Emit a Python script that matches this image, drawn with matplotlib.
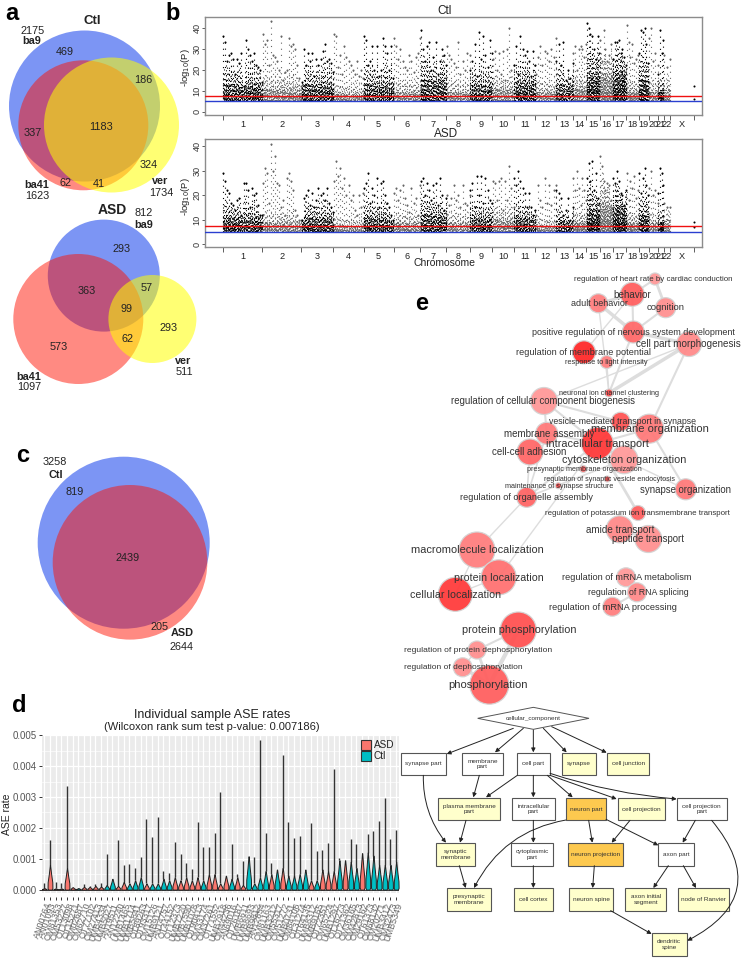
import numpy as np
import matplotlib
matplotlib.use('Agg')
from matplotlib import pyplot as plt
from matplotlib.patches import Circle, Polygon, Rectangle, FancyArrowPatch

plt.rcParams['font.family'] = ['Liberation Sans', 'DejaVu Sans']

W, H = 751, 960
TXT = '#222222'

# venn counts, panel a and c
ctl_venn = ['469', '186', '337', '1183', '324', '62', '41']
asd_venn = ['293', '363', '57', '99', '293', '573', '62']
ctl_totals = ['2175', '1623', '1734']
asd_totals = ['812', '1097', '511']
cross_venn = ['819', '2439', '205']
cross_totals = ['3258', '2644']

# manhattan, panel b: chromosome spans and the estimated column tops, -log10(P)
chrom_labels = [str(i) for i in range(1, 23)] + ['X']
chrom_span = [248, 244, 200, 188, 188, 167, 163, 146, 140, 135, 135, 129, 106,
              83, 83, 83, 83, 77, 63, 58, 35, 42, 146]
ctl_tops = [
    [36, 33, 24, 27, 28, 25, 18, 25, 23, 28, 12, 34, 30, 27, 24, 28, 22, 21, 20, 14],
    [37, 32, 34, 22, 43, 27, 26, 24, 20, 36, 15, 19, 20, 35, 31, 32, 30, 22, 16, 12],
    [14, 30, 22, 28, 24, 28, 17, 25, 22, 25, 29, 32, 24, 25, 23, 19],
    [37, 36, 21, 27, 18, 31, 26, 24, 22, 20, 18, 24, 17, 20, 16],
    [36, 34, 22, 24, 31, 20, 31, 17, 20, 35, 31, 28, 20, 31, 16],
    [35, 31, 25, 30, 24, 21, 20, 27, 24, 19, 26, 28, 35],
    [39, 30, 24, 31, 33, 20, 26, 33, 18, 24, 30, 27, 22],
    [31, 27, 25, 23, 21, 33, 18, 24, 20, 28, 27],
    [20, 24, 32, 17, 38, 25, 36, 27, 21, 34, 28],
    [25, 29, 20, 28, 18, 29, 15, 30, 40, 20, 22],
    [22, 31, 18, 36, 30, 27, 29, 24, 17, 29, 22],
    [18, 26, 31, 22, 29, 28, 24, 30, 26, 35],
    [24, 32, 22, 33, 15, 20, 16, 23],
    [28, 31, 20, 30, 31, 30, 26, 32],
    [42, 40, 37, 36, 30, 25, 36, 28],
    [34, 24, 39, 30, 24, 27, 32, 25],
    [25, 33, 33, 34, 28, 30, 26, 22],
    [41, 33, 26, 32, 23, 25, 27],
    [28, 39, 38, 40, 32, 23],
    [35, 40, 24, 28, 22],
    [18, 39, 28, 34],
    [27, 21, 25],
    [12, 6],
]
asd_tops = [
    [29, 26, 22, 21, 17, 16, 14, 18, 19, 12, 25, 25, 22, 15, 23, 20, 21, 16, 12, 12],
    [25, 31, 29, 17, 41, 30, 36, 25, 24, 15, 18, 12, 27, 29, 26, 22, 14, 12, 10, 10],
    [10, 19, 20, 22, 16, 21, 15, 18, 23, 20, 21, 18, 23, 17, 15, 13],
    [26, 34, 28, 31, 23, 27, 20, 24, 18, 20, 14, 12, 20, 15, 21],
    [23, 25, 29, 17, 23, 20, 27, 15, 25, 26, 20, 17, 15, 12, 10],
    [21, 23, 18, 22, 24, 19, 16, 13, 23, 17, 19, 12, 24],
    [26, 27, 20, 25, 22, 18, 24, 25, 16, 27, 20, 14, 19],
    [20, 16, 19, 24, 18, 20, 15, 24, 17, 16, 20],
    [22, 25, 15, 28, 20, 28, 17, 27, 22, 18, 17],
    [26, 25, 18, 26, 27, 14, 26, 18, 32, 23, 15],
    [27, 24, 30, 26, 23, 21, 15, 21, 15, 12, 14],
    [12, 24, 18, 15, 27, 17, 24, 16, 22, 24],
    [22, 21, 19, 12, 14, 19, 10, 15],
    [27, 22, 30, 23, 16, 27, 22, 18],
    [27, 33, 26, 34, 22, 29, 19, 17],
    [36, 32, 26, 22, 25, 24, 18, 15],
    [27, 25, 30, 26, 21, 20, 16, 22],
    [29, 18, 26, 23, 28, 19, 22],
    [29, 21, 27, 31, 24, 20],
    [23, 30, 20, 22, 17],
    [21, 31, 29, 24],
    [17, 15, 15],
    [9, 7],
]
ctl_band = [13, 11, 13, 9, 13, 10, 15, 10, 13, 11, 14, 10, 13, 11, 17, 17, 18, 10, 15, 10, 10, 11, 6]
asd_band = [11, 9, 11, 8, 11, 9, 12, 9, 11, 10, 11, 8, 10, 9, 14, 16, 15, 9, 12, 9, 9, 10, 6]

# violins, panel d: whisker top, top of the body, group
ase_top = [.0002, .0016, .00025, .0002, .00335, .0001, .00005, .00018, .00012, .00018, .0002,
           .00115, .00035, .0016, .0008, .00082, .0007, .00105, .0023, .0017, .00235,
           .0006, .00055, .00155, .00115, .00085, .00068, .0022, .00137, .00137, .00183,
           .00317, .00045, .00148, .0005, .00093, .00108, .00107, .00485, .00182, .00085,
           .00065, .00435, .0022, .00168, .00173, .00065, .00215, .00125, .00128, .00152,
           .00392, .00102, .00095, .00165, .00148, .00118, .0018, .0019, .00223, .00297,
           .00165, .00193]
ase_body = [.00005, .0008, .00004, .00004, .0007, .00008, .00005, .00009, .00009, .00012, .0001,
            .00015, .00035, .00012, .00025, .0002, .0003, .0004, .0002, .0002, .0002,
            .00035, .0003, .0004, .0003, .0004, .0003, .0004, .0003, .0005, .0005,
            .0002, .00045, .00035, .0004, .00015, .00108, .0002, .0004, .0006, .0005,
            .00065, .0007, .00045, .00045, .0005, .00065, .0003, .0003, .00065, .0006,
            .0006, .00095, .00095, .0009, .0007, .00118, .0012, .0011, .0008, .0008,
            .0008, .0009]
ase_group = list('AAAAAACAAAA' 'CCAACCCACCCC' 'AAAAACAAAACAA' 'CCCCACACCCCACAAACACCACCCCCC')
# names cannot be read exactly in the picture, these are estimates
sample_names = ['AN00764', 'AN01093', 'OM81353', 'OM53227', 'OT13098', 'OT15271', 'OM02687', 'OM62710',
                'OT77102', 'OM27413', 'UMB4334', 'UMB5027', 'AN19511', 'AN12240', 'UMB1465', 'UMB1714',
                'UMB5841', 'OT89263', 'OT93317', 'OM15126', 'UMB9121', 'AN14757', 'OT44152', 'OT12373',
                'UMB7220', 'UMB7590', 'UMB1078', 'OT90413', 'OM33174', 'OM37261', 'OT71552', 'UMB7918',
                'OM44236', 'AN69016', 'OT26187', 'UMB6611', 'UMB8693', 'UMB9812', 'AN12854', 'OM81163',
                'UMB3212', 'OM55317', 'OM51272', 'UMB0731', 'OM84106', 'OT31274', 'OT64135', 'UMB8312',
                'UMB9165', 'OT72351', 'OM65224', 'UMB1297', 'OT16273', 'OT21362', 'OM36165', 'OM42873',
                'OM29162', 'OT61373', 'OM68132', 'OM20271', 'UMB3412', 'OM32473', 'UMB5349']

# network, panel e
go_terms = ['regulation of heart rate by cardiac conduction', 'behavior', 'adult behavior', 'cognition',
            'positive regulation of nervous system development', 'cell part morphogenesis',
            'regulation of membrane potential', 'response to light intensity',
            'neuronal ion channel clustering', 'regulation of cellular component biogenesis',
            'vesicle-mediated transport in synapse', 'membrane organization', 'membrane assembly',
            'intracellular transport', 'cell-cell adhesion', 'cytoskeleton organization',
            'presynaptic membrane organization', 'regulation of synaptic vesicle endocytosis',
            'maintenance of synapse structure', 'synapse organization',
            'regulation of organelle assembly', 'regulation of potassium ion transmembrane transport',
            'amide transport', 'peptide transport', 'macromolecule localization', 'protein localization',
            'cellular localization', 'regulation of mRNA metabolism', 'regulation of RNA splicing',
            'regulation of mRNA processing', 'protein phosphorylation',
            'regulation of protein dephosphorylation', 'regulation of dephosphorylation', 'phosphorylation']
go_x = [655, 632.3, 598.3, 665.7, 633.3, 689, 584, 606.7, 609, 544, 620.7, 649.3, 546.7, 597.3, 530, 624,
        583.3, 607.3, 558.3, 685.7, 526.7, 638, 619.7, 648.3, 477, 498.7, 455.3, 626, 637, 612.3,
        518.3, 477, 462.7, 489.3]
go_y = [279, 294.3, 303.3, 307.7, 332, 344, 352.3, 362, 393, 401, 421.7, 428.7, 433.3, 443.3, 452, 459.7,
        469, 479, 485.7, 489.3, 497.3, 513, 529.3, 539, 550, 577.3, 594.3, 577.3, 592.3, 606.7,
        630, 650, 667.3, 684.7]
go_r = [6, 12, 9.5, 10, 11, 12.5, 11.5, 6.5, 4, 13.5, 9.5, 14.5, 11, 16, 13, 14,
        3.5, 3, 3, 10.5, 10, 7.5, 13.5, 13.5, 18, 17.5, 17, 9.5, 9.5, 9.5, 18, 9, 9.5, 19.5]
go_color = ['#ff9a9a', '#ff6060', '#ff7f7f', '#ff9090', '#ff6a6a', '#ff8a8a', '#ff2a2a', '#ff8080',
            '#ff5050', '#ff9898', '#ff5555', '#ff7a7a', '#ff7a7a', '#ff3a3a', '#ff6868', '#ff9a9a',
            '#ff6060', '#ff5050', '#ff5050', '#ff7a7a', '#ff6565', '#ff6060', '#ff8a8a', '#ff9090',
            '#ff7f7f', '#ff7272', '#ff3c3c', '#ff9a9a', '#ff8a8a', '#ff7f7f', '#ff5252', '#ff9090',
            '#ff9090', '#ff6060']
go_font = [5.7, 7.1, 6.5, 6.8, 6.45, 7.1, 6.55, 5.3, 5.2, 6.9, 6.3, 8.0, 7.0, 7.8, 7.0, 7.8,
           5.2, 5.1, 5.2, 6.9, 6.55, 5.7, 7.1, 6.9, 7.9, 7.65, 7.65, 6.55, 6.3, 6.65, 7.8, 6.1, 6.0, 8.1]
go_label_dx = [-2, 0, 1, 0, 0, -1, 0, 0, 0, -1, 2, 1, 2, 0, -1, 0, 1, 2, 1, 0, 0, -1, 0, 0, 0, 0, 0, 1, 1, 1, 1, 1, 1, -1]
go_edges = [(0, 1, 1.5), (0, 3, 2), (1, 2, 2), (1, 4, 1.5), (2, 4, 2.5), (3, 4, 1.5), (2, 8, 1), (4, 5, 2.5),
            (1, 6, 1), (5, 8, 2.5), (5, 11, 1.5), (5, 9, 1), (4, 8, 1.5), (7, 8, 1), (9, 12, 1.5), (9, 10, 1.5),
            (9, 13, 1.5), (12, 14, 1.5), (12, 13, 1.5), (13, 11, 1.5), (13, 15, 1.5), (10, 13, 1.5), (10, 11, 1.5),
            (15, 11, 1.5), (11, 19, 1.5), (14, 20, 1.2), (15, 20, 1.2), (13, 21, 2), (12, 20, 1.2), (13, 20, 1.5),
            (15, 19, 1), (24, 20, 1), (25, 13, 1), (24, 25, 1), (24, 26, 1), (25, 26, 1), (30, 31, 1.5), (30, 33, 3),
            (31, 32, 1), (32, 33, 2.5), (31, 33, 2), (27, 28, 1.5), (28, 29, 1.5), (22, 23, 1.5)]

# DAG, bottom right
dag_names = ['synapse part', 'membrane\npart', 'cell part', 'synapse', 'cell junction', 'plasma membrane\npart',
             'intracellular\npart', 'neuron part', 'cell projection', 'cell projection\npart', 'synaptic\nmembrane',
             'cytoplasmic\npart', 'neuron projection', 'axon part', 'presynaptic\nmembrane', 'cell cortex',
             'neuron spine', 'axon initial\nsegment', 'node of Ranvier', 'dendritic\nspine']
dag_x0 = [3, 187, 350, 485, 621, 114, 337, 498, 653, 830, 109, 333, 503, 775, 140, 342, 506, 676, 833, 755]
dag_x1 = [138, 308, 450, 587, 748, 301, 464, 618, 796, 980, 226, 460, 670, 881, 272, 458, 640, 799, 988, 860]
dag_row = [0, 0, 0, 0, 0, 1, 1, 1, 1, 1, 2, 2, 2, 2, 3, 3, 3, 3, 3, 4]
dag_color = ['#ffffff', '#ffffff', '#ffffff', '#ffffcc', '#ffffcc', '#ffffcc', '#ffffff', '#fdc94f', '#ffffcc',
             '#ffffff', '#ffffcc', '#ffffff', '#fdc94f', '#ffffff', '#ffffcc', '#ffffcc', '#ffffcc', '#ffffcc',
             '#ffffcc', '#ffffcc']
dag_row_y = [158, 293, 429, 565, 700]
dag_arrows = [((340, 85), (140, 162), 0), ((370, 85), (285, 157), 0), ((400, 90), (400, 157), 0),
              ((430, 85), (500, 157), 0), ((455, 80), (620, 158), 0), ((238, 226), (220, 292), 0),
              ((352, 226), (258, 292), 0), ((400, 226), (400, 292), 0), ((442, 226), (518, 292), 0),
              ((450, 226), (650, 297), 0), ((450, 220), (830, 297), 0.06), ((70, 226), (138, 428), 0.18),
              ((198, 361), (180, 428), 0), ((400, 361), (400, 428), 0), ((566, 361), (577, 428), 0),
              ((690, 361), (635, 428), 0), ((618, 358), (775, 436), 0), ((498, 360), (222, 564), 0.25),
              ((886, 361), (848, 428), 0), ((935, 361), (862, 722), -0.62), ((178, 497), (197, 564), 0),
              ((400, 497), (400, 564), 0), ((583, 497), (578, 564), 0), ((805, 497), (760, 564), 0),
              ((850, 497), (888, 564), 0), ((632, 632), (755, 702), 0)]


def px_axes(fig, x0, y0, x1, y1):
    return fig.add_axes([x0 / W, 1 - y1 / H, (x1 - x0) / W, (y1 - y0) / H])


def draw_manhattan(ax, tops, band, ylim, yticks):
    edges = np.concatenate([[0], np.cumsum(chrom_span)])
    low_mix = np.array([1, .6, .85, .45, .75, 1.2, .5, .9, .65, 1.1, .4])
    mid_mix = np.array([1.7, 1.2, 2.0, 1.0, 1.5, 2.3, 1.1])
    for i, vals in enumerate(tops):
        col = 'black' if i % 2 == 0 or i == 22 else '#666666'
        if i == 22:
            xs = np.full(len(vals), edges[-1])
        else:
            vals = np.array(vals)
            xs = np.linspace(edges[i] + 2, edges[i + 1] - 2, len(vals))
            # dense lower part, the dash offsets keep the dots from lining up in rows
            xd = np.linspace(edges[i] + 2, edges[i + 1] - 2, len(vals) * 3)
            tall = np.repeat(vals, 3)
            low = np.minimum(tall, 5 + (band[i] - 5) * np.resize(low_mix, len(xd)))
            mid = np.minimum(tall, 5 + (band[i] - 5) * np.resize(mid_mix, len(xd)))
            dash = [(k * 0.83 % 3.1, (1.0, 2.1)) for k in range(len(xd))]
            ax.vlines(xd, low, 5, color=col, lw=0.8, linestyles=dash, zorder=2)
            dash = [(k * 1.37 % 5.1, (1.0, 3.6)) for k in range(len(xd))]
            ax.vlines(xd + 1, mid, 5, color=col, lw=0.75, linestyles=dash, zorder=2)
            # drawn downwards from the top, so each column gets its own dot rows
            ax.vlines(xs, vals, 5, color=col, lw=0.8, linestyles=(0, (1.0, 4.5)), zorder=2)
        ax.scatter(xs, vals, s=2.2, color=col, lw=0, zorder=3)
    ax.axhline(7.3, color='#f01010', lw=1, zorder=4)
    ax.axhline(5, color='#2a3fd0', lw=1, zorder=4)
    ax.set_ylim(*ylim)
    ax.set_xlim(-0.48 ** -1 * 53, edges[-1] + 25 / 0.48)
    ax.set_xticks(edges)
    ax.set_xticklabels([])
    ax.set_xticks((edges[:-1] + edges[1:]) / 2, chrom_labels, minor=True)
    ax.tick_params(axis='x', which='major', length=3.5, width=0.6, color='#444444')
    ax.tick_params(axis='x', which='minor', length=0, labelsize=6.6, labelcolor=TXT, pad=3.5)
    ax.set_yticks(yticks)
    ax.tick_params(axis='y', length=2, width=0.6, color='#444444', labelsize=6.6, labelcolor='#333333', pad=0.5)
    for lab in ax.get_yticklabels():
        lab.set_rotation(90)
        lab.set_va('center')
    for sp in ax.spines.values():
        sp.set_color('#8c8c8c')
        sp.set_linewidth(1)


def draw_violins(ax):
    # set the offset first, moving a spine resets the ticks
    for sp in ax.spines.values():
        sp.set_visible(False)
    ax.spines['bottom'].set_position(('outward', 2.5))
    xs = np.arange(len(ase_top))
    ref = np.array([0, .06, .3, .65, 1])
    prof = np.array([.7, 1, .95, .45, .06]) * 0.43
    for i in xs:
        col = '#F8766D' if ase_group[i] == 'A' else '#00BFC4'
        ax.plot([i, i], [ase_body[i], ase_top[i]], color='#333333', lw=1, zorder=3, solid_capstyle='butt')
        yy = ref * ase_body[i]
        ax.fill_betweenx(yy, i - prof, i + prof, facecolor=col, edgecolor='#222222', lw=0.7, zorder=4)
    ax.plot([-0.5, len(xs) - 0.5], [0, 0], color='#222222', lw=0.6, zorder=3)
    ax.set_facecolor('#ebebeb')
    ax.set_xlim(-0.46, 62.5)
    ax.set_ylim(-0.00012, 0.00501)
    ax.set_yticks([0, .001, .002, .003, .004, .005], ['0.000', '0.001', '0.002', '0.003', '0.004', '0.005'])
    ax.set_yticks([.0005, .0015, .0025, .0035, .0045], minor=True)
    ax.set_xticks(xs, sample_names, rotation=71, ha='right', rotation_mode='anchor')
    ax.grid(True, which='major', color='white', lw=0.9)
    ax.grid(True, axis='y', which='minor', color='white', lw=0.45)
    ax.set_axisbelow(True)
    ax.tick_params(axis='y', which='major', length=2.5, width=0.7, color='#333333', labelsize=7, labelcolor='#555555', pad=1)
    ax.tick_params(axis='y', which='minor', length=0)
    ax.tick_params(axis='x', length=2, width=0.7, color='#333333', labelsize=6.5, labelcolor='#666666', pad=1.5)
    ax.yaxis.set_label_coords(-0.083, 0.42)
    ax.set_ylabel('ASE rate', fontsize=7.5, color=TXT)


def draw_venn(ov, circles):
    for (cx, cy, r, col, a) in circles:
        ov.add_patch(Circle((cx, cy), r, facecolor=col, alpha=a, edgecolor='none', zorder=1))


def put(ov, x, y, s, size=7.8, bold=False, color=TXT, **kw):
    ov.text(x, y, s, fontsize=size, fontweight='bold' if bold else 'normal', color=color,
            ha='center', va='center', zorder=9, **kw)


def dag_x(v):
    return 400 + v / 3


def dag_y(v):
    return 700 + v / 3


def main():
    fig = plt.figure(figsize=(W / 100, H / 100), dpi=100, facecolor='white')

    # panel b
    ax1 = px_axes(fig, 205, 17, 702, 115)
    draw_manhattan(ax1, ctl_tops, ctl_band, (-1.6, 45), [0, 10, 20, 30, 40])
    ax2 = px_axes(fig, 205, 139, 702, 247)
    draw_manhattan(ax2, asd_tops, asd_band, (-1.2, 43), [0, 10, 20, 30, 40])

    # panel d
    ax3 = px_axes(fig, 41.7, 735, 399, 893.3)
    draw_violins(ax3)

    # everything else goes on one overlay in pixel coordinates
    ov = fig.add_axes([0, 0, 1, 1], zorder=5)
    ov.set_xlim(0, W)
    ov.set_ylim(H, 0)
    ov.axis('off')
    ov.patch.set_alpha(0)

    blue, red, yellow = '#4a6cf0', '#ff1000', '#ffff00'
    a_blue, a_red, a_yellow = .72, .49, .55

    # panel a, Ctl
    draw_venn(ov, [(84.5, 106, 75.5, blue, a_blue), (83.3, 125.3, 65, red, a_red), (111.5, 125, 67.5, yellow, a_yellow)])
    for s, x, y in zip(ctl_venn, [65, 143, 33, 101, 149, 66, 99], [52, 80, 133, 127, 164.5, 183, 184]):
        put(ov, x, y, s)
    put(ov, 92, 21, 'Ctl', 9.5, True)
    put(ov, 33, 30.5, ctl_totals[0])
    put(ov, 32, 41, 'ba9', 7.8, True)
    put(ov, 37, 185, 'ba41', 7.8, True)
    put(ov, 37, 196, ctl_totals[1])
    put(ov, 160.5, 181, 'ver', 7.8, True)
    put(ov, 161, 193, ctl_totals[2])

    # panel a, ASD
    draw_venn(ov, [(103.8, 275.6, 56, blue, a_blue), (78.3, 319, 65, red, a_red), (152.4, 319, 44, yellow, a_yellow)])
    for s, x, y in zip(asd_venn, [122, 87, 147, 126.5, 169, 58.5, 128], [249, 291, 288, 309, 328, 347, 339]):
        put(ov, x, y, s)
    put(ov, 112, 210, 'ASD', 10, True)
    put(ov, 144, 213.5, asd_totals[0])
    put(ov, 144, 225, 'ba9', 7.8, True)
    put(ov, 183, 361, 'ver', 7.8, True)
    put(ov, 184, 372, asd_totals[2])
    put(ov, 29, 377, 'ba41', 7.8, True)
    put(ov, 29, 387, asd_totals[1])

    # panel c
    draw_venn(ov, [(123.7, 542.7, 86, blue, a_blue), (130, 562.3, 77.3, red, a_red)])
    for s, x, y in zip(cross_venn, [75, 128, 160], [492, 558, 627]):
        put(ov, x, y, s)
    put(ov, 55, 462, cross_totals[0])
    put(ov, 56, 475.5, 'Ctl', 7.8, True)
    put(ov, 182, 633, 'ASD', 7.8, True)
    put(ov, 182, 646.5, cross_totals[1])

    # panel letters
    for s, x, y in [('a', 12, 13), ('b', 173, 13), ('c', 23, 456), ('d', 19, 705), ('e', 422, 303)]:
        put(ov, x, y, s, 17, True, 'black')

    # panel b and d texts
    put(ov, 445, 10.5, 'Ctl', 8.5)
    put(ov, 446, 134, 'ASD', 8.5)
    put(ov, 445, 263.5, 'Chromosome', 7.5)
    put(ov, 185.5, 68, '-log$_{10}$(P)', 6.8, rotation=90)
    put(ov, 185.5, 197, '-log$_{10}$(P)', 6.8, rotation=90)
    put(ov, 212, 715, 'Individual sample ASE rates', 9)
    put(ov, 212, 727, '(Wilcoxon rank sum test p-value: 0.007186)', 8)
    for lab, col, y0 in [('ASD', '#F8766D', 739.5), ('Ctl', '#00BFC4', 750.8)]:
        ov.add_patch(Rectangle((360.7, y0), 10, 10.5, facecolor=col, edgecolor='#333333', lw=0.8, zorder=8))
        ov.text(374, y0 + 5.5, lab, fontsize=7.2, color=TXT, va='center', zorder=9)

    # panel e
    for a, b, w in go_edges:
        ov.plot([go_x[a], go_x[b]], [go_y[a], go_y[b]], color='#dddddd', lw=w, zorder=2, solid_capstyle='round')
    for x, y, r, col in zip(go_x, go_y, go_r, go_color):
        ov.add_patch(Circle((x, y), r, facecolor=col, edgecolor='#d4d4d4', lw=0.9, alpha=0.95, zorder=3))
    for name, x, y, dx, size in zip(go_terms, go_x, go_y, go_label_dx, go_font):
        put(ov, x + dx, y + 0.3, name, size, color='#333333')

    # DAG
    ov.add_patch(Polygon([(dag_x(233), dag_y(55)), (dag_x(400), dag_y(22)), (dag_x(567), dag_y(55)), (dag_x(400), dag_y(88))],
                         facecolor='white', edgecolor='#555555', lw=0.7, zorder=3))
    put(ov, dag_x(400), dag_y(55), 'cellular_component', 4.6, color='#333333')
    for name, x0, x1, row, col in zip(dag_names, dag_x0, dag_x1, dag_row, dag_color):
        y0 = dag_row_y[row]
        ov.add_patch(Rectangle((dag_x(x0), dag_y(y0)), (x1 - x0) / 3, 68 / 3, facecolor=col,
                               edgecolor='#555555', lw=0.8, zorder=3))
        put(ov, dag_x((x0 + x1) / 2), dag_y(y0 + 34), name, 4.6, color='#333333', linespacing=1.15)
    for (p, q, rad) in dag_arrows:
        ov.add_patch(FancyArrowPatch((dag_x(p[0]), dag_y(p[1])), (dag_x(q[0]), dag_y(q[1])),
                                     arrowstyle='-|>', mutation_scale=6, lw=0.7, color='#222222',
                                     shrinkA=0, shrinkB=0, connectionstyle=f'arc3,rad={rad}', zorder=4))

    fig.savefig('out.png', dpi=100)


if __name__ == "__main__":
    main()
